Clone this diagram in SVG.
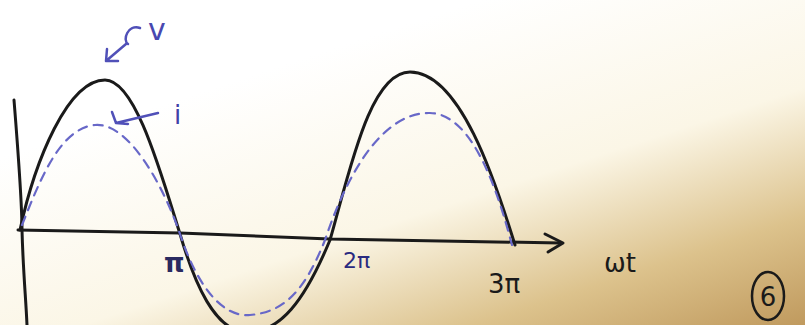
<svg xmlns="http://www.w3.org/2000/svg" width="805" height="325" viewBox="0 0 805 325">
<defs>
<linearGradient id="bg" x1="0.35" y1="0.2" x2="1" y2="1">
<stop offset="0" stop-color="#ffffff"/>
<stop offset="0.45" stop-color="#fbf6e6"/>
<stop offset="0.75" stop-color="#dcc28c"/>
<stop offset="1" stop-color="#c09a5e"/>
</linearGradient>
<style>
.ink{fill:none;stroke:#1a1a1a;stroke-width:3;stroke-linecap:round;stroke-linejoin:round}
.blue{fill:none;stroke:#5050b8;stroke-width:2.5;stroke-linecap:round;stroke-linejoin:round}
.dash{fill:none;stroke:#6868c8;stroke-width:2.2;stroke-dasharray:9 7;stroke-linecap:round}
.lbl{font-family:"DejaVu Sans",sans-serif}
</style>
</defs>
<rect width="805" height="325" fill="url(#bg)"/>
<g id="axes">
<path class="ink" d="M14,100 C18,150 22,200 22,230 C23,270 26,300 27,325"/>
<path class="ink" d="M18,230 L180,233 L330,239 L560,243"/>
<path class="ink" d="M545,234 L563,243 L548,252"/>
</g>
<g id="voltage">
<path class="ink" d="M20,230 C35,160 68,80 105,80 C135,80 160,170 180,234 C195,285 215,330 245,332 C280,334 305,300 330,240 C350,170 370,72 410,72 C460,72 495,180 515,245"/>
</g>
<g id="current">
<path class="dash" d="M22,225 C40,180 60,128 95,125 C130,122 165,190 180,234 C195,280 220,318 250,315 C285,312 305,290 325,240 C345,180 380,112 430,113 C475,114 500,200 512,245"/>
</g>
<g id="labels">
<path class="blue" d="M140,28 C128,24 122,40 128,44 M126,44 L106,61 M106,61 L107,49 M106,61 L118,61"/>
<text class="lbl" x="148" y="40" font-size="30" fill="#4848b0">v</text>
<path class="blue" d="M158,113 L116,123 M116,123 L112,112 M116,123 L128,124"/>
<text class="lbl" x="174" y="124" font-size="26" fill="#4040a8">i</text>
<text class="lbl" x="164" y="272" font-size="26" font-weight="bold" fill="#2a2a60">π</text>
<text class="lbl" x="343" y="268" font-size="22" fill="#2a2a80">2π</text>
<text class="lbl" x="488" y="293" font-size="26" fill="#1a1a1a">3π</text>
<text class="lbl" x="604" y="272" font-size="26" fill="#1a1a1a">ωt</text>
<ellipse cx="768" cy="296" rx="16" ry="24" fill="none" stroke="#1a1a1a" stroke-width="2.5"/>
<text class="lbl" x="768" y="306" font-size="26" fill="#1a1a1a" text-anchor="middle">6</text>
</g>
</svg>
